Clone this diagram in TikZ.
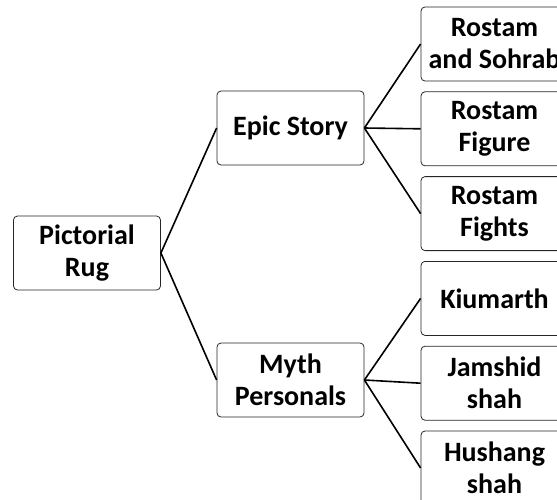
\documentclass[tikz,border=0pt]{standalone}
\usepackage{fontspec}
\setmainfont{Carlito}
\usetikzlibrary{positioning}

\tikzset{
  box/.style = {draw=black!85, line width=0.8pt, rounded corners=4pt, fill=white,
    minimum width=147pt, minimum height=74pt, align=center,
    font=\fontsize{28}{32}\selectfont\bfseries, inner sep=1pt},
  link/.style = {line width=1.6pt}
}

\begin{document}
\begin{tikzpicture}[x=1pt, y=-1pt, node distance = 10pt]
\useasboundingbox (0,0) rectangle (557,499);
\clip (0,0) rectangle (557,499);

\node[box] (rug) at (87,253) {Pictorial\\Rug};
\node[box] (epic) at (290.5,128) {Epic Story};
\node[box] (myth) at (290.5,380) {Myth\\Personals};

\node[box] (sohrab) at (494.5,44) {Rostam\\and Sohrab};
\node[box] (figure) [below = of sohrab] {Rostam\\Figure};
\node[box] (fights) [below = of figure] {Rostam\\Fights};
\node[box] (kiumarth) [below = of fights] {Kiumarth};
\node[box] (jamshid) [below = of kiumarth] {Jamshid\\shah};
\node[box] (hushang) [below = of jamshid] {Hushang\\shah};

\draw[link] (rug.east) -- (epic.west)
    (rug.east) -- (myth.west);
\foreach \leaf in {sohrab, figure, fights}
  \draw[link] (epic.east) -- (\leaf.west);
\foreach \leaf in {kiumarth, jamshid, hushang}
  \draw[link] (myth.east) -- (\leaf.west);
\end{tikzpicture}
\end{document}
